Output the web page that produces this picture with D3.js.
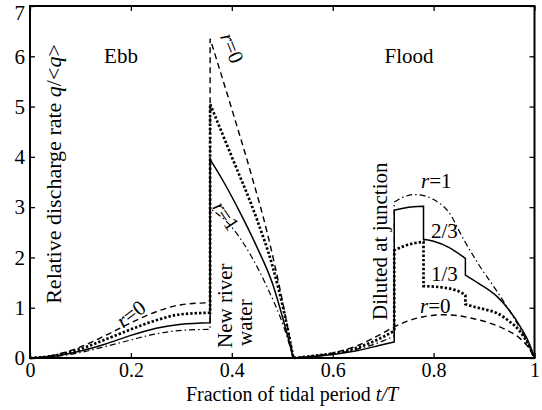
<!DOCTYPE html>
<html><head><meta charset="utf-8">
<script src="https://cdn.jsdelivr.net/npm/d3@7"></script>
<style>
html,body{margin:0;padding:0;background:#fff;}
svg text{font-family:"Liberation Serif","DejaVu Serif","Times New Roman",serif !important;fill:#000;}
</style></head>
<body><svg id="chart" width="542" height="410"></svg>
<script>
// ---- data (t = fraction of tidal period, q = relative discharge) ----
const xTicks = [0, 0.2, 0.4, 0.6, 0.8, 1];
const xTickLabels = ["0", "0.2", "0.4", "0.6", "0.8", "1"];
const yTicks = [0, 1, 2, 3, 4, 5, 6, 7];
const yTickLabels = ["0", "1", "2", "3", "4", "5", "6", "7"];

const tEbbRise = [0, 0.05, 0.1, 0.15, 0.2, 0.25, 0.3, 0.357];
const tFloodRise = [0.522, 0.55, 0.6, 0.65, 0.7, 0.722];

// r = 0 (dashed)
const r0EbbRise = [0, 0.06, 0.22, 0.45, 0.70, 0.92, 1.06, 1.10];
const r0EbbFallT = [0.357, 0.40, 0.44, 0.47, 0.50, 0.522];
const r0EbbFall = [6.35, 4.95, 3.6, 2.5, 1.15, 0];
const r0FloodT = [0.522, 0.55, 0.6, 0.65, 0.7, 0.722, 0.75, 0.78, 0.8, 0.82, 0.85, 0.88, 0.91, 0.94, 0.97, 0.985, 1.0];
const r0Flood = [0, 0.03, 0.1, 0.25, 0.5, 0.62, 0.74, 0.82, 0.85, 0.86, 0.84, 0.78, 0.70, 0.58, 0.40, 0.25, 0];

// r = 1/3 (dotted)
const r13EbbRise = [0, 0.05, 0.18, 0.37, 0.57, 0.75, 0.87, 0.90];
const r13EbbFallT = [0.357, 0.40, 0.45, 0.48, 0.505, 0.522];
const r13EbbFall = [5.05, 4.0, 2.75, 1.85, 0.85, 0];
const r13FloodRise = [0, 0.03, 0.09, 0.21, 0.42, 0.54];
const r13FloodAT = [0.722, 0.74, 0.76, 0.78];
const r13FloodA = [2.14, 2.22, 2.28, 2.31];
const r13FloodBT = [0.78, 0.80, 0.82, 0.84, 0.855, 0.863];
const r13FloodB = [1.43, 1.42, 1.40, 1.36, 1.30, 1.25];
const r13FloodCT = [0.863, 0.88, 0.90, 0.926, 0.95, 0.972, 0.99, 1.0];
const r13FloodC = [1.07, 1.02, 0.97, 0.89, 0.73, 0.52, 0.22, 0];

// r = 2/3 (solid)
const r23EbbRise = [0, 0.04, 0.14, 0.28, 0.45, 0.59, 0.67, 0.70];
const r23EbbFallT = [0.357, 0.384, 0.417, 0.45, 0.48, 0.505, 0.522];
const r23EbbFall = [3.95, 3.5, 2.88, 2.2, 1.5, 0.65, 0];
const r23FloodRise = [0, 0.02, 0.07, 0.15, 0.27, 0.32];
const r23FloodAT = [0.722, 0.74, 0.76, 0.78];
const r23FloodA = [2.94, 2.98, 3.01, 3.02];
const r23FloodBT = [0.78, 0.80, 0.83, 0.863];
const r23FloodB = [2.36, 2.32, 2.20, 1.98];
const r23FloodCT = [0.863, 0.89, 0.926, 0.95, 0.972, 0.99, 1.0];
const r23FloodC = [1.65, 1.48, 1.22, 0.95, 0.62, 0.28, 0];

// r = 1 (dash-dot)
const r1EbbRise = [0, 0.03, 0.11, 0.23, 0.36, 0.48, 0.55, 0.57];
const r1EbbFallT = [0.357, 0.40, 0.44, 0.47, 0.503, 0.522];
const r1EbbFall = [2.97, 2.6, 2.0, 1.41, 0.62, 0];
const r1FloodRise = [0, 0.02, 0.08, 0.18, 0.34, 0.44];
const r1FloodT = [0.722, 0.74, 0.76, 0.78, 0.80, 0.83, 0.86, 0.89, 0.926, 0.96, 0.985, 1.0];
const r1Flood = [3.10, 3.20, 3.25, 3.23, 3.15, 2.9, 2.35, 1.85, 1.32, 0.78, 0.33, 0];

const zip = (t, q) => t.map((v, i) => [v, q[i]]);
const series = [
  { name: "r0", dash: "6,4", width: 1.4,
    segs: [zip(tEbbRise, r0EbbRise), zip(r0EbbFallT, r0EbbFall), zip(r0FloodT, r0Flood)] },
  { name: "r13", dash: "2.4,2", width: 2.7,
    segs: [zip(tEbbRise, r13EbbRise), zip(r13EbbFallT, r13EbbFall), zip(tFloodRise, r13FloodRise),
           zip(r13FloodAT, r13FloodA), zip(r13FloodBT, r13FloodB), zip(r13FloodCT, r13FloodC)] },
  { name: "r23", dash: null, width: 1.5,
    segs: [zip(tEbbRise, r23EbbRise), zip(r23EbbFallT, r23EbbFall), zip(tFloodRise, r23FloodRise),
           zip(r23FloodAT, r23FloodA), zip(r23FloodBT, r23FloodB), zip(r23FloodCT, r23FloodC)] },
  { name: "r1", dash: "6,3,1.5,3", width: 1.2,
    segs: [zip(tEbbRise, r1EbbRise), zip(r1EbbFallT, r1EbbFall), zip(tFloodRise, r1FloodRise), zip(r1FloodT, r1Flood)] }
];

// ---- drawing ----
const FONT = "'Liberation Serif', 'DejaVu Serif', 'Times New Roman', serif";
const svg = d3.select("#chart");
const L = 30, R = 534.5, T = 6, B = 358;
const x = d3.scaleLinear().domain([0, 1]).range([L, R]);
const y = d3.scaleLinear().domain([0, 7]).range([B, T]);
const FS = 21;

const line = d3.line().x(d => x(d[0])).y(d => y(d[1])).curve(d3.curveMonotoneX);

series.forEach(s => {
  const d = s.segs.map((seg, i) => {
    const p = line(seg);
    return i ? p.replace(/^M/, "L") : p;
  }).join("");
  svg.append("path").attr("d", d).attr("fill", "none").attr("stroke", "#000")
    .attr("stroke-width", s.width).attr("stroke-dasharray", s.dash)
    .attr("stroke-linejoin", "miter");
});

// axes with inward ticks
const gB = svg.append("g").attr("transform", `translate(0,${B})`)
  .call(d3.axisBottom(x).tickValues(xTicks).tickFormat((d, i) => xTickLabels[i]).tickSize(-5).tickPadding(5));
const gT = svg.append("g").attr("transform", `translate(0,${T})`)
  .call(d3.axisTop(x).tickValues(xTicks).tickFormat("").tickSize(-5));
const gL = svg.append("g").attr("transform", `translate(${L},0)`)
  .call(d3.axisLeft(y).tickValues(yTicks).tickFormat((d, i) => yTickLabels[i]).tickSize(-5).tickPadding(5));
const gR = svg.append("g").attr("transform", `translate(${R},0)`)
  .call(d3.axisRight(y).tickValues(yTicks).tickFormat("").tickSize(-5));
[gB, gT, gL, gR].forEach(g => {
  g.attr("font-family", FONT);
  g.select(".domain").remove();
  g.selectAll("line").attr("stroke", "#000").attr("stroke-width", 1.3);
  g.selectAll("text").attr("font-family", FONT).attr("font-size", FS).attr("fill", "#000");
});
gB.selectAll("text").attr("font-size", FS - 1);
// top label "7" sits just inside the figure
gL.selectAll(".tick text").filter(d => d === 7).attr("dy", "0.62em");

svg.append("rect").attr("x", L).attr("y", T).attr("width", R - L).attr("height", B - T)
  .attr("fill", "none").attr("stroke", "#000").attr("stroke-width", 2);

// axis titles
const xl = svg.append("text").attr("x", 292).attr("y", 401).attr("text-anchor", "middle")
  .attr("font-family", FONT).attr("font-size", FS - 1);
xl.append("tspan").text("Fraction of tidal period ");
xl.append("tspan").attr("font-style", "italic").text("t/T");

const yl = svg.append("text").attr("transform", "translate(61,174) rotate(-90)")
  .attr("text-anchor", "middle").attr("font-family", FONT).attr("font-size", FS + 1);
yl.append("tspan").text("Relative discharge rate ");
yl.append("tspan").attr("font-style", "italic").text("q");
yl.append("tspan").text("/<");
yl.append("tspan").attr("font-style", "italic").text("q");
yl.append("tspan").text(">");

// annotations
function plain(txt, tr, anchor) {
  return svg.append("text").attr("transform", tr).attr("text-anchor", anchor || "start")
    .attr("font-family", FONT).attr("font-size", FS).text(txt);
}
function rlabel(val, tr, anchor, baseline) {
  const t = svg.append("text").attr("transform", tr).attr("text-anchor", anchor || "start")
    .attr("font-family", FONT).attr("font-size", FS);
  if (baseline) t.attr("dominant-baseline", baseline);
  t.append("tspan").attr("font-style", "italic").text("r");
  t.append("tspan").text("=" + val);
  return t;
}
plain("Ebb", "translate(121,63)", "middle");
plain("Flood", "translate(409,63)", "middle");
plain("New river", "translate(232,348) rotate(-90)");
plain("water", "translate(252,346) rotate(-90)");
plain("Diluted at junction", "translate(387,320) rotate(-90)");
rlabel("0", "translate(131,314) rotate(-37)", "middle", "central");
rlabel("0", "translate(232,48) rotate(68)", "middle", "central");
rlabel("1", "translate(226,216) rotate(56)", "middle", "central");
rlabel("1", "translate(421,188)");
plain("2/3", "translate(431,238)");
plain("1/3", "translate(431,281)");
rlabel("0", "translate(420,313)");
</script></body></html>
